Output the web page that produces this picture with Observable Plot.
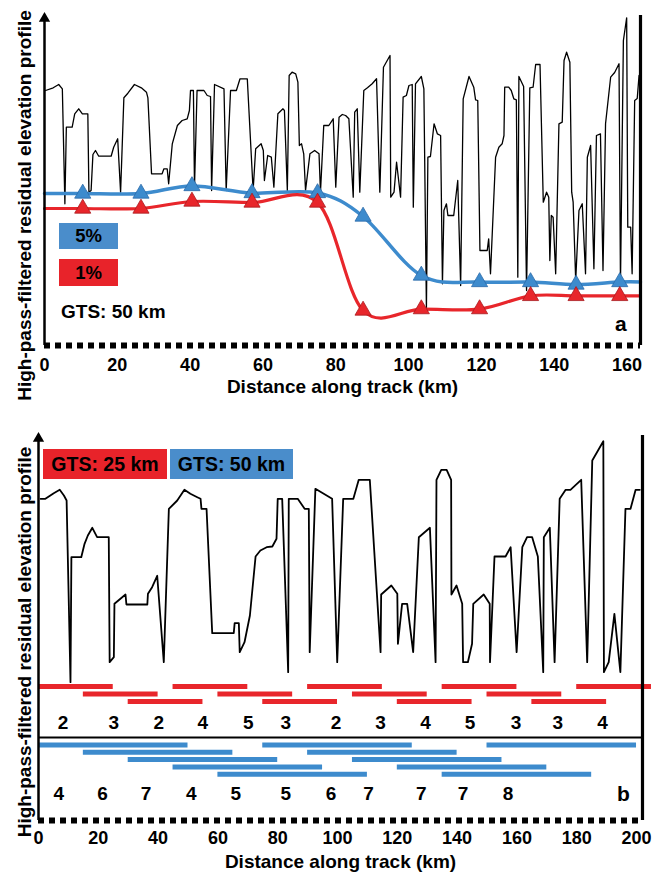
<!DOCTYPE html>
<html><head><meta charset="utf-8">
<script src="https://cdn.jsdelivr.net/npm/d3@7"></script>
<script src="https://cdn.jsdelivr.net/npm/@observablehq/plot@0.6"></script>
<style>
body{margin:0;background:#fff;}
#wrap{position:relative;width:654px;height:881px;overflow:hidden;font-family:"Liberation Sans",Arial,Helvetica,sans-serif;}
.panel{position:absolute;left:0;width:654px;}
.box{position:absolute;display:flex;align-items:center;justify-content:center;font-weight:bold;color:#000;}
.lab{position:absolute;font-weight:bold;color:#000;white-space:nowrap;}
</style></head><body><div id="wrap"></div>
<script>
// ---------- DATA: panel a ----------
const profileA = [[0.3,255],[2.4,257.7],[3.9,261],[4.9,256.7],[5.6,141.7],[6.0,218.3],[7.6,218.3],[8.3,231.7],[9.4,236.7],[10.4,231.7],[11.9,231.7],[12.2,153.3],[12.8,155],[13.3,191],[14.0,195],[14.9,189.3],[18.3,189.3],[19.0,198.3],[20.1,206.7],[20.9,153.3],[21.8,247.7],[22.9,252.3],[24.7,261],[26.6,257.7],[28.0,253.3],[28.4,247.7],[29.4,171.7],[32.3,171.7],[32.8,176.7],[33.7,176.7],[34.1,161.7],[35.1,201.7],[36.5,220],[37.8,225],[39.2,226.7],[39.8,235],[40.1,255],[40.9,255],[41.2,158.3],[41.9,255],[43.8,255],[44.7,250],[45.6,249],[45.9,155],[46.7,261],[49.3,256.7],[49.9,155],[51.1,255],[52.7,255],[53.7,266.7],[55.7,266.7],[57.3,155],[58.0,196.7],[59.5,201.7],[60.1,195],[60.4,165],[61.3,190],[62.3,188.3],[63.0,158.3],[64.1,231.7],[65.5,236.7],[65.9,235],[66.7,155],[67.2,270],[68.0,273.3],[69.0,271.7],[69.6,263.3],[70.0,200],[70.6,201.7],[71.2,191.7],[71.7,155],[72.9,191.7],[74.2,195],[75.4,191.7],[75.8,153.3],[76.7,220],[78.1,220],[79.3,226.7],[80.0,158.3],[80.9,228.3],[81.8,231],[82.7,230],[83.6,226.7],[84.8,148.3],[85.2,233.3],[85.9,236.7],[86.6,153.3],[87.7,255],[88.7,257.7],[90.0,261.7],[91.2,266.7],[92.1,153.3],[93.1,278.3],[94.9,290],[95.1,148.3],[96.0,153.3],[96.7,183.3],[97.8,148.3],[98.5,248.3],[99.4,250],[100.1,260],[101.0,261],[101.3,138.3],[101.9,261.7],[103.5,269],[104.2,256.7],[104.9,36.7],[105.3,188.3],[106.0,189],[107.0,221.7],[107.9,211.7],[108.8,210],[109.3,61.7],[109.7,135],[110.4,141.7],[110.8,130],[112.4,130],[113.5,165],[114.3,60],[115.0,246.7],[116.6,269],[117.9,258.3],[118.4,245.7],[119.0,245],[119.6,95],[121.6,95],[122.0,106.7],[122.5,71.7],[123.9,188.3],[124.8,198.3],[125.7,201.7],[126.2,210],[126.4,258.3],[127.5,258.3],[128.2,255],[128.9,246.7],[129.6,245.7],[130.0,68.3],[130.3,269],[131.6,259],[132.4,55],[133.3,257.7],[134.2,258.3],[134.9,281],[136.1,281],[137.0,143.3],[137.9,153.3],[138.5,148.3],[138.8,85],[139.2,130],[139.7,128.3],[140.4,71.7],[141.3,221.7],[142.2,223.3],[142.7,285],[143.4,293.3],[144.3,283.3],[144.8,153.3],[145.2,143.3],[145.9,65],[146.8,135],[147.7,141.7],[148.6,71.7],[149.1,188.3],[150.0,200],[150.9,76.7],[151.6,210],[152.7,211.7],[153.4,75],[154.1,221.7],[155.5,268.3],[156.6,273],[157.8,281.7],[158.2,61.7],[159.0,305],[159.9,327.7],[160.2,118.3],[161.0,118.3],[161.4,71.7],[162.1,245],[162.8,247],[163.3,270],[163.7,270]];
const stationKm = [10.5, 26.5, 40.5, 57, 75, 87.5, 103.5, 119.5, 133.5, 146, 158];
const elev5pct  = [152, 152, 159.5, 152.5, 152.5, 129, 70, 63.5, 63.5, 61, 63.5];
const elev1pct  = [137, 137, 144, 143, 143, 35, 36.4, 36.4, 49.6, 49.6, 49.6];
const trackEndsKm = [0, 163.7];
const ends5pct = [152, 63.5];
const ends1pct = [137, 49.6];
const ticksA = [0, 20, 40, 60, 80, 100, 120, 140, 160];

// ---------- DATA: panel b ----------
const profileB = [[0.7,321.7],[2.3,321.7],[5.1,327.3],[7.1,330.7],[8.5,325],[9.4,320],[10.7,138.3],[11.0,263.3],[14.3,263.3],[15.4,276.7],[16.5,285],[18.0,292.7],[19.6,283.3],[23.5,283.3],[23.8,158.3],[25.2,163.3],[25.4,216.7],[27.4,221.7],[29.1,226],[29.4,216],[36.4,216],[36.6,226.7],[38.0,233.3],[39.7,244.7],[41.9,158.3],[43.6,311.7],[46.4,320],[48.8,330.7],[50.8,326.7],[53.1,323.3],[54.2,321.7],[54.5,311.7],[56.2,311.7],[58.1,187.3],[65.3,187.3],[65.6,197.3],[67.0,197.3],[67.3,168.3],[68.9,178.3],[70.7,205],[72.6,264],[74.2,270],[76.3,273.3],[78.2,274],[79.6,281.7],[80.0,321.7],[81.5,321.7],[83.5,148.3],[83.7,321.7],[86.7,321.7],[89.0,311.7],[90.4,311.7],[90.7,168.3],[92.6,331.7],[98.2,321.7],[99.9,158.3],[101.9,321.7],[105.3,321.7],[107.1,340.7],[110.8,340.7],[114.4,168.3],[114.6,226],[118.0,235],[120.0,226.7],[120.2,176.7],[121.6,216.7],[123.3,216.7],[125.3,168.3],[127.2,283.3],[130.9,292.7],[132.8,158.3],[133.1,340.7],[134.7,350.7],[136.5,350.7],[138.0,340.7],[138.1,226],[139.8,235],[141.7,216.7],[142.0,158.3],[143.6,158.3],[145.0,176.7],[145.4,216.7],[148.9,226],[150.9,216.7],[151.0,158.3],[152.5,264],[156.2,264],[157.9,273.3],[159.9,168.3],[161.8,273.3],[163.4,283.3],[165.1,283.3],[167.0,264],[168.8,148.3],[169.0,283.3],[171.0,292.7],[172.6,158.3],[174.3,321.7],[176.3,330.7],[177.9,330.7],[181.5,340.7],[183.5,158.3],[185.2,360],[188.9,379.3],[189.1,148.3],[190.7,158.3],[192.6,206.7],[194.6,148.3],[196.3,311.7],[198.0,311.7],[199.7,330.7],[201.1,330.7]];
const gts25Start = [0, 15, 30, 45, 60, 75, 90, 105, 120, 135, 150, 165, 180];
const gts25Length = 25;
const gts25Count = [2, 3, 2, 4, 5, 3, 2, 3, 4, 5, 3, 3, 4];
const gts25CountKm = [8.2, 25.2, 40.2, 54.9, 70.2, 82.7, 99.5, 114.4, 129.4, 144.3, 159.7, 173.7, 188.6];
const gts50Start = [0, 15, 30, 45, 60, 75, 90, 105, 120, 135, 150];
const gts50Length = 50;
const gts50Count = [4, 6, 7, 4, 5, 5, 6, 7, 7, 7, 8];
const gts50CountKm = [6.8, 21.4, 36, 51.1, 66, 82.7, 97.8, 110.4, 128, 142, 157];
const ticksB = [0, 20, 40, 60, 80, 100, 120, 140, 160, 180, 200];

// ---------- STYLE / LAYOUT ----------
const BLUE = "#3d8bcd", RED = "#e8262b";
const FONT = "'Liberation Sans', Arial, Helvetica, sans-serif";
const yTitle = "High-pass-filtered residual elevation profile";
const xTitle = "Distance along track (km)";
const xMaxA = 163.7, yMaxA = 330;
const xMaxB = 202, yMaxB = 385;
const redRowY = [134, 126.5, 119], redCountY = 98, sepY = 83;
const blueRowY = [75.4, 68.2, 61, 53.4, 46.2], blueCountY = 27;

const wrap = document.getElementById("wrap");
function add(parent, cls, css, text) {
  const e = document.createElement("div");
  e.className = cls; Object.assign(e.style, css);
  if (text != null) e.textContent = text;
  parent.appendChild(e); return e;
}
const svgStyle = {fontFamily: FONT, fontWeight: "bold", fontSize: "18px", color: "#000", background: "transparent", overflow: "visible"};

function frameMarks(xMax, dyTitleY, dxTitleY) {
  return [
    Plot.ruleY([0], {x1: 0, x2: xMax, stroke: "#000", strokeWidth: 6, strokeDasharray: "6,5"}),
    Plot.ruleX([0], {stroke: "#000", strokeWidth: 2.5}),
    Plot.ruleX([xMax], {stroke: "#000", strokeWidth: 3.2}),
    Plot.dot([0], {x: d => d, frameAnchor: "top", symbol: "triangle", r: 4.2, fill: "#000", stroke: "none", dy: 3}),
    Plot.text([xTitle], {frameAnchor: "bottom", text: d => d, dy: 47, fontSize: 19}),
    Plot.text([yTitle], {frameAnchor: "left", text: d => d, rotate: -90, textAnchor: "middle", lineAnchor: "middle", dx: dxTitleY, dy: dyTitleY, fontSize: 19})
  ];
}

// ---------- PANEL A ----------
const curve5 = [{x: trackEndsKm[0], y: ends5pct[0]}, ...stationKm.map((k, i) => ({x: k, y: elev5pct[i]})), {x: trackEndsKm[1], y: ends5pct[1]}];
const curve1 = [{x: trackEndsKm[0], y: ends1pct[0]}, ...stationKm.map((k, i) => ({x: k, y: elev1pct[i]})), {x: trackEndsKm[1], y: ends1pct[1]}];

const plotA = Plot.plot({
  width: 654, height: 410,
  marginTop: 15, marginBottom: 65, marginLeft: 44, marginRight: 14,
  style: svgStyle,
  x: {domain: [0, xMaxA], ticks: ticksA, tickSize: 0, tickPadding: 13, label: null},
  y: {domain: [0, yMaxA], axis: null},
  marks: [
    Plot.line(profileA, {x: d => d[0], y: d => d[1], stroke: "#000", strokeWidth: 1.3}),
    Plot.line(curve5, {x: "x", y: "y", curve: "cardinal", tension: 0, stroke: BLUE, strokeWidth: 3.5}),
    Plot.line(curve1, {x: "x", y: "y", curve: "cardinal", tension: 0, stroke: RED, strokeWidth: 3.2}),
    Plot.dot(stationKm, {x: d => d, y: (d, i) => elev5pct[i], symbol: "triangle", r: 6, fill: BLUE, stroke: "#2b6aa8", strokeWidth: 0.8}),
    Plot.dot(stationKm, {x: d => d, y: (d, i) => elev1pct[i], symbol: "triangle", r: 6, fill: RED, stroke: "#a81a1e", strokeWidth: 0.8}),
    ...frameMarks(xMaxA, 25, -20)
  ]
});
const pa = add(wrap, "panel", {top: "0px", height: "410px"});
pa.appendChild(plotA);

// ---------- PANEL B ----------
const redBars = gts25Start.map((s, i) => ({x1: s, x2: s + gts25Length, row: i % 3}));
const blueBars = gts50Start.map((s, i) => ({x1: s, x2: s + gts50Length, row: i % 5}));

const plotB = Plot.plot({
  width: 654, height: 471,
  marginTop: 25, marginBottom: 61, marginLeft: 38, marginRight: 12,
  style: svgStyle,
  x: {domain: [0, xMaxB], ticks: ticksB, tickSize: 0, tickPadding: 11, label: null},
  y: {domain: [0, yMaxB], axis: null},
  marks: [
    Plot.line(profileB, {x: d => d[0], y: d => d[1], stroke: "#000", strokeWidth: 1.8}),
    Plot.ruleY(redBars, {y: d => redRowY[d.row], x1: "x1", x2: "x2", stroke: RED, strokeWidth: 5}),
    Plot.text(gts25Count, {x: (d, i) => gts25CountKm[i], y: () => redCountY, text: d => String(d), fontSize: 19}),
    Plot.ruleY([sepY], {x1: 0, x2: xMaxB, stroke: "#000", strokeWidth: 1.8}),
    Plot.ruleY(blueBars, {y: d => blueRowY[d.row], x1: "x1", x2: "x2", stroke: BLUE, strokeWidth: 5}),
    Plot.text(gts50Count, {x: (d, i) => gts50CountKm[i], y: () => blueCountY, text: d => String(d), fontSize: 19}),
    ...frameMarks(xMaxB, 14, -14)
  ]
});
const pb = add(wrap, "panel", {top: "410px", height: "471px"});
pb.appendChild(plotB);

// ---------- legends / annotations ----------
add(wrap, "box", {left: "59px", top: "223px", width: "59px", height: "26px", background: "#4a8dcb", fontSize: "18.5px"}, "5%");
add(wrap, "box", {left: "59px", top: "259px", width: "59px", height: "27px", background: "#e8232a", fontSize: "18.5px"}, "1%");
add(wrap, "lab", {left: "61px", top: "301px", fontSize: "19px", lineHeight: "22px"}, "GTS: 50 km");
add(wrap, "lab", {left: "615px", top: "312px", fontSize: "21px", lineHeight: "24px"}, "a");
add(wrap, "box", {left: "43px", top: "449px", width: "124px", height: "30px", background: "#e8232a", fontSize: "19.5px"}, "GTS: 25 km");
add(wrap, "box", {left: "170px", top: "449px", width: "123px", height: "30px", background: "#4a8dcb", fontSize: "19.5px"}, "GTS: 50 km");
add(wrap, "lab", {left: "617px", top: "782px", fontSize: "21px", lineHeight: "24px"}, "b");
</script></body></html>
